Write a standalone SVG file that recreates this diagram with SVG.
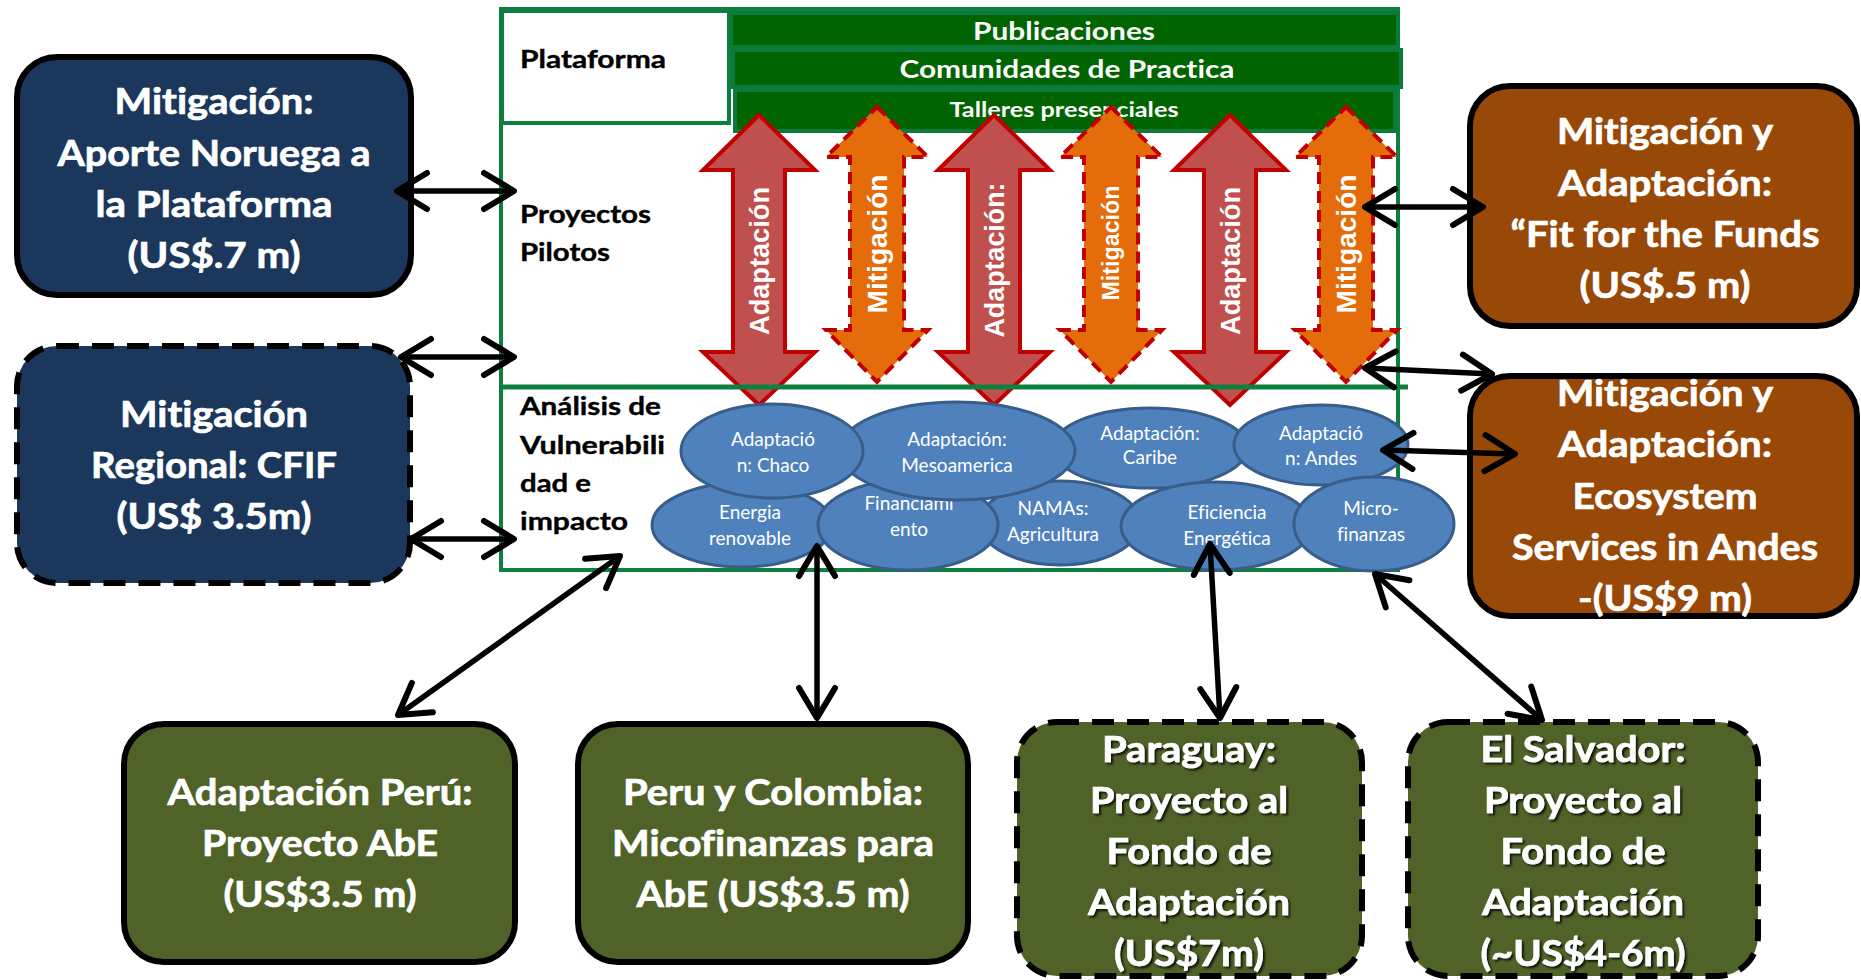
<svg xmlns="http://www.w3.org/2000/svg" width="1861" height="980" viewBox="0 0 1861 980">
<style>
text{font-variant-ligatures:none;font-feature-settings:"liga" 0}
.bx text{font-family:Lato,"Liberation Sans",sans-serif;font-weight:bold;font-size:36px;fill:#fff;stroke:#fff;stroke-width:0.7;text-anchor:middle}
.lbl{font-family:Lato,"Liberation Sans",sans-serif;font-weight:bold;font-size:25px;fill:#000;stroke:#000;stroke-width:0.4}
.bar{fill:#006400;stroke:#0b7a3a;stroke-width:4}
.bart{font-family:Lato,"Liberation Sans",sans-serif;font-weight:bold;font-size:25px;fill:#fff;text-anchor:middle}
.ra{fill:#c0504d;stroke:#c00000;stroke-width:4}
.oa{fill:#e46c0a;stroke:#c00000;stroke-width:4;stroke-dasharray:12 7}
.at{font-family:"Liberation Sans",sans-serif;font-weight:bold;font-size:28px;fill:#fff;text-anchor:middle}
.el ellipse{fill:#4f81bd;stroke:#385d8a;stroke-width:3}
.el text{font-family:Lato,"Liberation Sans",sans-serif;font-size:19px;fill:#fff;text-anchor:middle}
.navy{fill:#1b375c;stroke:#000;stroke-width:6}
.brown{fill:#984807;stroke:#000;stroke-width:6}
.olive{fill:#4f6228;stroke:#000;stroke-width:6}
.dash{stroke-dasharray:22 13}
.con line{stroke:#000;stroke-width:5.5;marker-start:url(#ah);marker-end:url(#ah)}
</style>
<defs>
<marker id="ah" viewBox="0 0 40 44" refX="36" refY="22" markerWidth="40" markerHeight="44" markerUnits="userSpaceOnUse" orient="auto-start-reverse">
<path d="M6,4 L36,22 L6,40" fill="none" stroke="#000" stroke-width="6" stroke-linecap="round" stroke-linejoin="round"/>
</marker>
<filter id="sh" x="-10%" y="-10%" width="120%" height="130%">
<feDropShadow dx="2" dy="2" stdDeviation="0.8" flood-color="#000" flood-opacity="0.8"/>
</filter>
</defs>
<rect width="1861" height="980" fill="#fff"/>

<g id="frame">
<rect x="501" y="9" width="897" height="561" fill="#fff" stroke="#0d8040" stroke-width="4"/>
<rect x="502" y="11" width="227" height="112" fill="#fff" stroke="#0d8040" stroke-width="4"/>
<text class="lbl" x="520" y="68" textLength="146" lengthAdjust="spacingAndGlyphs">Plataforma</text>
<text class="lbl" x="520" y="223" textLength="131" lengthAdjust="spacingAndGlyphs">Proyectos</text>
<text class="lbl" x="520" y="261" textLength="90" lengthAdjust="spacingAndGlyphs">Pilotos</text>
<text class="lbl" x="520" y="415" textLength="141" lengthAdjust="spacingAndGlyphs">Análisis de</text>
<text class="lbl" x="520" y="454" textLength="145" lengthAdjust="spacingAndGlyphs">Vulnerabili</text>
<text class="lbl" x="520" y="492" textLength="71" lengthAdjust="spacingAndGlyphs">dad e</text>
<text class="lbl" x="520" y="530" textLength="108" lengthAdjust="spacingAndGlyphs">impacto</text>
</g>

<g id="bars">
<rect class="bar" x="731" y="13" width="667" height="34"/>
<text class="bart" x="1064" y="40" textLength="182" lengthAdjust="spacingAndGlyphs">Publicaciones</text>
<rect class="bar" x="733" y="50" width="668" height="37"/>
<text class="bart" x="1067" y="78" textLength="335" lengthAdjust="spacingAndGlyphs">Comunidades de Practica</text>
<rect class="bar" x="735" y="90" width="660" height="41"/>
<text class="bart" x="1064" y="117" style="font-size:21px" textLength="229" lengthAdjust="spacingAndGlyphs">Talleres presenciales</text>
</g>

<g id="arrows">
<polygon class="ra" points="759,115 815,170 785,170 785,352 815,352 759,405 703,352 733,352 733,170 703,170"/>
<text class="at" transform="translate(759,261) rotate(-90)" dy="10" textLength="148" lengthAdjust="spacingAndGlyphs">Adaptación</text>
<polygon class="oa" points="877,107 928,157 904,157 904,330 928,330 877,382 826,330 850,330 850,157 826,157"/>
<text class="at" transform="translate(877,244) rotate(-90)" dy="10" textLength="139" lengthAdjust="spacingAndGlyphs">Mitigación</text>
<polygon class="ra" points="994,115 1050,170 1020,170 1020,352 1050,352 994,405 938,352 968,352 968,170 938,170"/>
<text class="at" transform="translate(994,260) rotate(-90)" dy="10" textLength="155" lengthAdjust="spacingAndGlyphs">Adaptación:</text>
<polygon class="oa" points="1111,107 1162,157 1138,157 1138,330 1162,330 1111,382 1060,330 1084,330 1084,157 1060,157"/>
<text class="at" transform="translate(1111,243) rotate(-90)" dy="8" style="font-size:23px" textLength="115" lengthAdjust="spacingAndGlyphs">Mitigación</text>
<polygon class="ra" points="1230,115 1286,170 1256,170 1256,352 1286,352 1230,405 1174,352 1204,352 1204,170 1174,170"/>
<text class="at" transform="translate(1230,261) rotate(-90)" dy="10" textLength="148" lengthAdjust="spacingAndGlyphs">Adaptación</text>
<polygon class="oa" points="1346,107 1397,157 1373,157 1373,330 1397,330 1346,382 1295,330 1319,330 1319,157 1295,157"/>
<text class="at" transform="translate(1346,244) rotate(-90)" dy="10" textLength="139" lengthAdjust="spacingAndGlyphs">Mitigación</text>
</g>

<line x1="501" y1="387" x2="1408" y2="387" stroke="#0d8040" stroke-width="5"/>

<g id="ellipses" class="el">
<g id="e-energia"><ellipse cx="742" cy="525" rx="90" ry="42"/><text x="750" y="519">Energia</text><text x="750" y="545">renovable</text></g>
<g id="e-namas"><ellipse cx="1060" cy="523" rx="80" ry="42"/><text x="1053" y="515">NAMAs:</text><text x="1053" y="541">Agricultura</text></g>
<g id="e-financ"><ellipse cx="908" cy="525" rx="90" ry="45"/><text x="909" y="510">Financiami</text><text x="909" y="536">ento</text></g>
<g id="e-caribe"><ellipse cx="1150" cy="448" rx="97" ry="40"/><text x="1150" y="440">Adaptación:</text><text x="1150" y="464">Caribe</text></g>
<g id="e-meso"><ellipse cx="957" cy="451" rx="118" ry="49"/><text x="957" y="446">Adaptación:</text><text x="957" y="472">Mesoamerica</text></g>
<g id="e-chaco"><ellipse cx="772" cy="451" rx="91" ry="47"/><text x="773" y="446">Adaptació</text><text x="773" y="472">n: Chaco</text></g>
<g id="e-andes"><ellipse cx="1321" cy="445" rx="87" ry="40"/><text x="1321" y="440">Adaptació</text><text x="1321" y="465">n: Andes</text></g>
<g id="e-efic"><ellipse cx="1216" cy="526" rx="95" ry="44"/><text x="1227" y="519">Eficiencia</text><text x="1227" y="545">Energética</text></g>
<g id="e-micro"><ellipse cx="1374" cy="524" rx="80" ry="47"/><text x="1371" y="515">Micro-</text><text x="1371" y="541">finanzas</text></g>
</g>

<g id="box-noruega" class="bx">
<rect class="navy" x="17" y="57" width="394" height="238" rx="40"/>
<text x="214" y="114" textLength="199" lengthAdjust="spacingAndGlyphs">Mitigación:</text>
<text x="214" y="166" textLength="313" lengthAdjust="spacingAndGlyphs">Aporte Noruega a</text>
<text x="214" y="217" textLength="237" lengthAdjust="spacingAndGlyphs">la Plataforma</text>
<text x="214" y="268" textLength="173" lengthAdjust="spacingAndGlyphs">(US$.7 m)</text>
</g>
<g id="box-cfif" class="bx">
<rect class="navy dash" x="17" y="346" width="393" height="237" rx="40"/>
<text x="214" y="427" textLength="188" lengthAdjust="spacingAndGlyphs">Mitigación</text>
<text x="214" y="478" textLength="246" lengthAdjust="spacingAndGlyphs">Regional: CFIF</text>
<text x="214" y="529" textLength="195" lengthAdjust="spacingAndGlyphs">(US$ 3.5m)</text>
</g>
<g id="box-fit" class="bx">
<rect class="brown" x="1470" y="86" width="387" height="240" rx="40"/>
<text x="1665" y="144" textLength="216" lengthAdjust="spacingAndGlyphs">Mitigación y</text>
<text x="1665" y="196" textLength="214" lengthAdjust="spacingAndGlyphs">Adaptación:</text>
<text x="1665" y="247" textLength="309" lengthAdjust="spacingAndGlyphs">“Fit for the Funds</text>
<text x="1665" y="298" textLength="171" lengthAdjust="spacingAndGlyphs">(US$.5 m)</text>
</g>
<g id="box-eco" class="bx">
<rect class="brown" x="1470" y="376" width="387" height="240" rx="40"/>
<text x="1665" y="406" textLength="216" lengthAdjust="spacingAndGlyphs">Mitigación y</text>
<text x="1665" y="457" textLength="214" lengthAdjust="spacingAndGlyphs">Adaptación:</text>
<text x="1665" y="509" textLength="185" lengthAdjust="spacingAndGlyphs">Ecosystem</text>
<text x="1665" y="560" textLength="306" lengthAdjust="spacingAndGlyphs">Services in Andes</text>
<text x="1665" y="611" textLength="174" lengthAdjust="spacingAndGlyphs">-(US$9 m)</text>
</g>
<g id="box-peru" class="bx">
<rect class="olive" x="124" y="724" width="391" height="238" rx="40"/>
<text x="320" y="805" textLength="305" lengthAdjust="spacingAndGlyphs">Adaptación Perú:</text>
<text x="320" y="856" textLength="236" lengthAdjust="spacingAndGlyphs">Proyecto AbE</text>
<text x="320" y="907" textLength="193" lengthAdjust="spacingAndGlyphs">(US$3.5 m)</text>
</g>
<g id="box-pecol" class="bx">
<rect class="olive" x="578" y="724" width="390" height="238" rx="40"/>
<text x="773" y="805" textLength="300" lengthAdjust="spacingAndGlyphs">Peru y Colombia:</text>
<text x="773" y="856" textLength="322" lengthAdjust="spacingAndGlyphs">Micofinanzas para</text>
<text x="773" y="907" textLength="273" lengthAdjust="spacingAndGlyphs">AbE (US$3.5 m)</text>
</g>
<g id="box-paraguay" class="bx">
<rect class="olive dash" x="1017" y="722" width="345" height="254" rx="40"/>
<g filter="url(#sh)">
<text x="1189" y="762" textLength="174" lengthAdjust="spacingAndGlyphs">Paraguay:</text>
<text x="1189" y="813" textLength="198" lengthAdjust="spacingAndGlyphs">Proyecto al</text>
<text x="1189" y="864" textLength="165" lengthAdjust="spacingAndGlyphs">Fondo de</text>
<text x="1189" y="915" textLength="202" lengthAdjust="spacingAndGlyphs">Adaptación</text>
<text x="1189" y="966" textLength="150" lengthAdjust="spacingAndGlyphs">(US$7m)</text>
</g>
</g>
<g id="box-salvador" class="bx">
<rect class="olive dash" x="1408" y="722" width="350" height="254" rx="40"/>
<g filter="url(#sh)">
<text x="1583" y="762" textLength="205" lengthAdjust="spacingAndGlyphs">El Salvador:</text>
<text x="1583" y="813" textLength="198" lengthAdjust="spacingAndGlyphs">Proyecto al</text>
<text x="1583" y="864" textLength="165" lengthAdjust="spacingAndGlyphs">Fondo de</text>
<text x="1583" y="915" textLength="202" lengthAdjust="spacingAndGlyphs">Adaptación</text>
<text x="1583" y="966" textLength="205" lengthAdjust="spacingAndGlyphs">(~US$4-6m)</text>
</g>
</g>

<g id="connectors" class="con">
<line x1="397" y1="191" x2="514" y2="191"/>
<line x1="401" y1="357" x2="514" y2="357"/>
<line x1="411" y1="539" x2="514" y2="539"/>
<line x1="398" y1="715" x2="620" y2="556"/>
<line x1="817" y1="546" x2="817" y2="718"/>
<line x1="1210" y1="544" x2="1220" y2="718"/>
<line x1="1375" y1="574" x2="1542" y2="720"/>
<line x1="1365" y1="207" x2="1483" y2="207"/>
<line x1="1365" y1="368" x2="1492" y2="374"/>
<line x1="1383" y1="450" x2="1515" y2="454"/>
</g>
</svg>
